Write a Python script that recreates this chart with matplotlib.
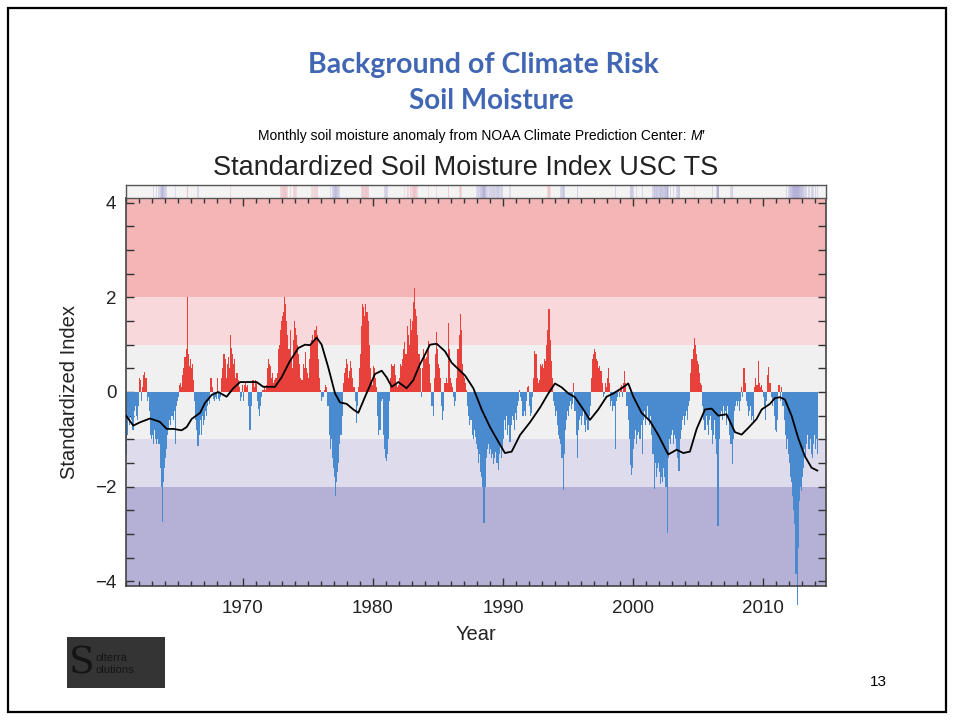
import numpy as np
import matplotlib
matplotlib.use("Agg")
import matplotlib.pyplot as plt
from matplotlib.patches import Rectangle

# monthly standardized soil moisture index, Jan 1961 .. Mar 2014
start_year = 1961
ssmi = [
    -1.3, -0.9, -0.6, -0.7, -0.5, -0.6, -0.8, -0.4, -0.3, -0.5, -0.6, -0.3,      # 1961
    0.3, 0.25, -0.2, 0.1, 0.35, 0.42, 0.3, -0.2, -0.1, -0.4, -0.9, -1.0,         # 1962
    -0.9, -1.1, -0.8, -1.0, -1.1, -1.0, -1.1, -1.6, -2.0, -2.75, -1.9, -1.6,     # 1963
    -1.4, -1.2, -0.9, -0.8, -0.6, -0.7, -0.5, -0.6, -0.4, -1.1, -0.3, -0.2,      # 1964
    -0.1, 0.15, 0.2, 0.1, 0.35, 0.5, 0.75, 0.9, 2.0, 0.8, 0.55, 0.7,             # 1965
    0.5, 0.6, 0.25, -0.2, -0.6, -0.8, -1.15, -0.9, -0.6, -0.9, -0.5, -0.7,       # 1966
    -0.6, -0.4, -0.5, -0.3, -0.2, -0.25, 0.3, 0.1, -0.15, -0.2, -0.1, -0.15,     # 1967
    0.3, -0.15, -0.2, -0.1, 0.3, 0.5, 0.8, 0.7, 0.3, 0.6, 0.75, 0.5,             # 1968
    1.2, 0.93, 0.8, 0.6, 0.7, 0.3, 0.4, 0.25, 0.1, -0.2, -0.1, 0.15,             # 1969
    -0.2, 0.15, 0.2, 0.1, 0.15, -0.3, -0.8, -0.3, 0.25, 0.25, 0.1, 0.25,         # 1970
    0.2, -0.2, -0.35, -0.5, -0.3, -0.1, 0.05, 0.1, 0.05, 0.15, 0.5, 0.7,         # 1971
    0.6, 0.55, 0.3, 0.4, 0.2, 0.25, 0.3, 0.4, 0.9, 1.0, 1.3, 1.5,                # 1972
    1.6, 1.7, 2.0, 1.85, 1.5, 1.2, 0.9, 1.3, 0.7, 0.5, 1.1, 1.5,                 # 1973
    1.35, 1.2, 1.0, 0.8, 0.6, 0.3, 0.25, 0.6, 0.5, 0.85, 0.5, 0.4,               # 1974
    0.3, 0.7, 1.0, 1.1, 1.2, 1.05, 1.3, 1.4, 1.2, 0.7, 0.3, 0.05,                # 1975
    -0.2, -0.1, -0.1, 0.05, 0.15, 0.1, -0.3, -0.9, -1.2, -1.0, -1.4, -1.6,       # 1976
    -1.8, -2.2, -1.9, -1.7, -1.5, -1.1, -0.9, -0.5, 0.2, 0.4, 0.5, 0.7,          # 1977
    0.6, 0.3, 0.45, 0.65, 0.5, 0.3, 0.1, -0.2, -0.65, -0.3, 0.1, 0.5,            # 1978
    0.8, 1.4, 1.85, 1.8, 1.6, 1.85, 1.7, 1.5, 1.0, 0.5, 0.25, 0.15,              # 1979
    0.55, 0.5, 0.3, 0.1, -0.5, -0.9, -0.8, -0.2, -0.15, -0.9, -1.2, -1.4,        # 1980
    -1.45, -1.3, -1.0, -0.2, 0.3, 0.6, 0.55, 0.6, 0.35, 0.2, 0.1, 0.15,          # 1981
    0.3, 0.6, 0.55, 0.7, 0.9, 1.05, 0.8, 1.4, 1.2, 1.0, 1.55, 1.3,               # 1982
    1.5, 1.9, 2.2, 1.75, 1.6, 1.2, 0.8, 0.5, -0.1, 0.5, 0.9, 0.8,                # 1983
    0.7, 0.75, 0.9, 1.07, 0.6, 0.2, -0.3, -0.5, 0.3, 0.8, 1.27, 0.9,             # 1984
    0.6, 0.5, 0.3, -0.3, -0.6, -0.4, 0.2, 0.3, 0.2, 1.45, 0.9, 0.3,              # 1985
    0.2, 0.1, -0.1, -0.3, -0.2, 0.3, 0.9, 1.2, 1.65, 1.3, 0.6, 0.4,              # 1986
    0.3, 0.2, 0.05, -0.3, -0.5, -0.7, -0.6, -0.9, -1.0, -0.8, -0.95, -1.1,       # 1987
    -1.2, -1.5, -1.3, -1.7, -1.8, -2.0, -2.77, -2.0, -1.4, -1.2, -1.1, -1.3,     # 1988
    -1.2, -1.4, -1.3, -1.53, -1.4, -1.26, -1.5, -1.64, -1.3, -1.12, -1.4, -1.2,  # 1989
    -1.0, -0.6, -0.8, -0.5, -0.9, -0.7, -1.05, -0.7, -0.5, -0.6, -0.8, -0.45,    # 1990
    -0.6, -0.3, -0.2, 0.05, -0.1, -0.2, -0.5, -0.4, -0.5, -0.2, 0.1, 0.12,       # 1991
    -0.3, -0.5, -0.45, -0.1, 0.3, 0.86, 0.8, 0.3, 0.2, 0.25, 0.6, 0.55,          # 1992
    0.6, 0.5, 0.7, 0.65, 1.0, 1.3, 1.75, 1.1, 0.65, 0.3, -0.2, -0.3,             # 1993
    -0.5, -0.4, -0.7, -0.9, -1.0, -1.1, -1.4, -2.08, -1.3, -0.8, -0.6, -0.4,     # 1994
    -0.5, -0.3, -0.2, -0.35, -0.25, 0.2, -0.4, -0.9, -1.4, -0.8, -0.6, -0.5,     # 1995
    -0.7, -0.5, -0.4, -0.7, -0.85, -0.6, -0.8, -0.5, -0.3, 0.3, 0.7, 0.8,        # 1996
    0.9, 0.85, 0.7, 0.65, 0.5, 0.55, 0.45, 0.2, -0.1, -0.05, 0.2, 0.1,           # 1997
    0.3, 0.5, 0.2, -0.3, -0.2, -0.4, -0.3, -1.2, -0.2, -0.1, 0.05, -0.1,         # 1998
    0.1, 0.15, -0.1, 0.2, 0.45, 0.2, -0.3, -0.6, -1.0, -1.55, -1.75, -1.6,       # 1999
    -1.2, -1.0, -0.8, -1.1, -0.9, -0.85, -1.0, -0.7, -1.3, -0.6, -0.4, -0.7,     # 2000
    -0.5, -0.3, -0.6, -0.7, -0.5, -0.9, -1.3, -2.05, -1.5, -1.8, -1.6, -1.5,     # 2001
    -1.7, -1.95, -1.8, -1.9, -1.6, -1.8, -2.0, -2.97, -1.4, -1.0, -1.1, -0.9,    # 2002
    -0.8, -1.1, -0.9, -1.0, -1.2, -1.4, -1.67, -1.0, -0.8, -0.6, -0.5, -0.7,     # 2003
    -0.5, -0.4, -0.6, -0.3, -0.2, 0.4, 0.7, 0.9, 1.14, 1.0, 0.8, 0.65,           # 2004
    0.6, 0.4, 0.2, 0.15, -0.3, -0.6, -0.8, -0.5, -0.7, -0.9, -0.6, -0.5,         # 2005
    -0.8, -1.1, -0.9, -0.6, -1.0, -1.3, -2.84, -1.0, -0.5, -0.4, -0.6, -0.3,     # 2006
    -0.5, -0.4, -0.7, -0.3, -0.6, -0.9, -1.1, -1.53, -1.0, -0.4, -0.3, -0.2,     # 2007
    -0.3, -0.2, -0.4, -0.2, 0.1, -0.1, 0.5, 0.2, -0.2, -0.3, -0.5, -0.4,         # 2008
    -0.3, -0.6, -0.5, -0.65, 0.1, 0.3, 0.15, 0.65, 0.2, 0.1, 0.15, 0.05,         # 2009
    -0.1, -0.3, -0.6, -0.2, 0.35, 0.52, 0.2, -0.1, -0.3, -0.2, -0.5, -0.8,       # 2010
    -0.85, -0.6, 0.15, 0.15, -0.2, 0.1, -0.3, -0.6, -0.9, -1.2, -1.0, -1.3,      # 2011
    -1.5, -1.8, -1.9, -2.2, -2.5, -2.8, -3.85, -4.5, -3.3, -2.3, -2.0, -2.1,     # 2012
    -1.8, -1.6, -1.2, -1.4, -1.1, -0.9, -1.2, -1.0, -1.3, -1.4, -1.1, -0.9,      # 2013
    -1.2, -1.0, -1.3,                                                            # 2014
]

# smoothed curve (black line), read at irregular points
trend_year = [1961.0, 1961.56, 1962.08, 1962.85, 1963.6, 1964.13, 1964.64, 1965.28, 1965.67,
              1966.05, 1966.7, 1967.08, 1967.6, 1968.1, 1968.74, 1969.26, 1969.77, 1970.4,
              1971.05, 1971.56, 1972.46, 1972.97, 1973.6, 1974.26, 1974.77, 1975.15, 1975.67,
              1976.05, 1976.56, 1977.08, 1977.46, 1977.97, 1978.49, 1978.87, 1979.5, 1980.15,
              1980.67, 1981.05, 1981.44, 1981.95, 1982.59, 1983.1, 1983.62, 1984.0, 1984.38,
              1984.9, 1985.54, 1986.05, 1986.69, 1987.08, 1987.72, 1988.36, 1989.0, 1989.64,
              1990.15, 1990.67, 1991.31, 1992.08, 1992.85, 1993.49, 1994.0, 1994.51, 1995.03,
              1995.54, 1996.18, 1996.69, 1997.33, 1997.97, 1998.49, 1999.13, 1999.64, 2000.03,
              2000.66, 2001.3, 2001.95, 2002.71, 2003.36, 2003.87, 2004.38, 2004.9, 2005.54,
              2006.05, 2006.56, 2007.2, 2007.85, 2008.36, 2008.87, 2009.51, 2009.9, 2010.54,
              2010.92, 2011.3, 2011.69, 2012.2, 2012.72, 2013.23, 2013.74, 2014.18]
trend_val = [-0.5, -0.71, -0.64, -0.56, -0.63, -0.78, -0.78, -0.81, -0.74,
             -0.57, -0.44, -0.23, -0.06, 0.0, -0.1, 0.08, 0.21, 0.21,
             0.21, 0.11, 0.11, 0.31, 0.65, 0.93, 1.0, 0.99, 1.15,
             1.0, 0.52, -0.03, -0.22, -0.25, -0.37, -0.44, -0.03, 0.38,
             0.45, 0.31, 0.11, 0.21, 0.08, 0.25, 0.59, 0.79, 1.0,
             1.02, 0.86, 0.62, 0.45, 0.35, 0.08, -0.37, -0.74, -1.05,
             -1.29, -1.26, -0.91, -0.64, -0.33, -0.03, 0.18, 0.1, -0.03,
             -0.11, -0.37, -0.59, -0.37, -0.1, -0.03, 0.08, 0.18, -0.1,
             -0.44, -0.61, -0.91, -1.32, -1.22, -1.29, -1.26, -0.78, -0.37,
             -0.35, -0.5, -0.47, -0.85, -0.9, -0.76, -0.57, -0.37, -0.25,
             -0.13, -0.11, -0.16, -0.5, -0.98, -1.36, -1.6, -1.66]

band_lo = [-5, -2, -1, 1, 2]
band_hi = [-2, -1, 1, 2, 5]
band_col = ['#b5b1d6', '#dddbec', '#f0f0f1', '#f9d8dc', '#f4b5b6']
decades = [1970, 1980, 1990, 2000, 2010]
ylabels = [-4, -2, 0, 2, 4]

RED, BLUE = '#e8403b', '#4a8bcf'
W, H = 954, 721

def fx(px): return px / W
def fy(py): return 1 - py / H

fig = plt.figure(figsize=(9.54, 7.21), dpi=100)
fig.patches.append(Rectangle((fx(8), fy(712)), fx(938), 704 / H, transform=fig.transFigure,
                             fill=False, ec='black', lw=1.6))

# slide heading
fig.text(fx(483), fy(65), 'Background of Climate Risk', ha='center', va='center',
         family='Lato', weight='bold', fontsize=20.5, color='#4066b4')
fig.text(fx(491), fy(101), 'Soil Moisture', ha='center', va='center',
         family='Lato', weight='bold', fontsize=20, color='#4066b4')
sub = fig.text(fx(258), fy(136), "Monthly soil moisture anomaly from NOAA Climate Prediction Center: ",
               ha='left', va='center', family='Liberation Sans', fontsize=10)
r = fig.canvas.get_renderer()
bb = sub.get_window_extent(r)
fig.text(bb.x1 / W, fy(136), 'M\u2032', ha='left', va='center', family='Liberation Sans',
         style='italic', fontsize=10)
fig.text(fx(466), fy(168), 'Standardized Soil Moisture Index USC TS', ha='center', va='center',
         family='Liberation Sans', fontsize=19.5, color='#222222')

vals = np.array(ssmi)
t = start_year + np.arange(len(vals)) / 12.0
cols = np.where(vals >= 0, RED, BLUE)

ax = fig.add_axes([fx(126), fy(586), fx(700), 388 / H])
for lo, hi, c in zip(band_lo, band_hi, band_col):
    ax.axhspan(lo, hi, color=c, lw=0, zorder=0)
ax.bar(t, vals, width=1 / 12, align='edge', color=cols, lw=0, zorder=2, clip_on=False)
ax.plot(trend_year, trend_val, color='black', lw=1.3, zorder=3)
ax.set_xlim(1961.0, 2014.85)
ax.set_ylim(-4.1, 4.1)
ax.set_xticks(decades)
ax.set_xticks(np.arange(1961, 2015), minor=True)
ax.set_yticks(ylabels)
ax.set_yticks(np.arange(-4, 4.01, 0.5), minor=True)
ax.tick_params(which='both', direction='in', top=True, right=True, colors='#333333',
               labelsize=13.5, labelcolor='#222222', width=1)
ax.tick_params(which='major', length=6)
ax.tick_params(axis='x', which='minor', length=3.5)
ax.tick_params(axis='y', which='minor', length=6)
ax.tick_params(axis='x', which='major', pad=10)
ax.tick_params(axis='y', which='major', pad=7)
for s in ax.spines.values():
    s.set_color('#444444'); s.set_linewidth(1.2)
for lab in ax.get_xticklabels() + ax.get_yticklabels():
    lab.set_family('Liberation Sans')
ax.set_xlabel('Year', family='Liberation Sans', fontsize=14.5, color='#222222', labelpad=6)
ax.set_ylabel('Standardized Index', family='Liberation Sans', fontsize=14.5, color='#222222', labelpad=11)

# thin colour strip above the plot, flagging strongly wet / dry months
axs = fig.add_axes([fx(126), fy(198), fx(700), 13 / H])
axs.set_facecolor('#f3f3f3')
strength = np.clip((np.abs(vals) - 1.0) / 1.5, 0, 1)
for ti, vi, si in zip(t, vals, strength):
    if si > 0:
        axs.bar(ti, 1, width=1 / 12, align='edge', lw=0,
                color='#e98c98' if vi > 0 else '#8c88c8', alpha=0.2 + 0.4 * si)
axs.set_xlim(ax.get_xlim()); axs.set_ylim(0, 1)
axs.set_xticks([]); axs.set_yticks([])
for s in axs.spines.values():
    s.set_color('#555555'); s.set_linewidth(1.0)

# logo and page number
fig.patches.append(Rectangle((fx(67), fy(688)), fx(98), 51 / H, transform=fig.transFigure,
                             color='#343434', lw=0))
fig.text(fx(69), fy(663), 'S', family='DejaVu Serif', fontsize=27, color='#141414', va='center')
fig.text(fx(96), fy(664), 'olterra\nolutions', family='Liberation Sans', fontsize=8,
         color='#141414', va='center', linespacing=1.15)
fig.text(fx(878), fy(682), '13', family='Liberation Sans', fontsize=11, ha='center', va='center')

fig.savefig('out.png', dpi=100)
